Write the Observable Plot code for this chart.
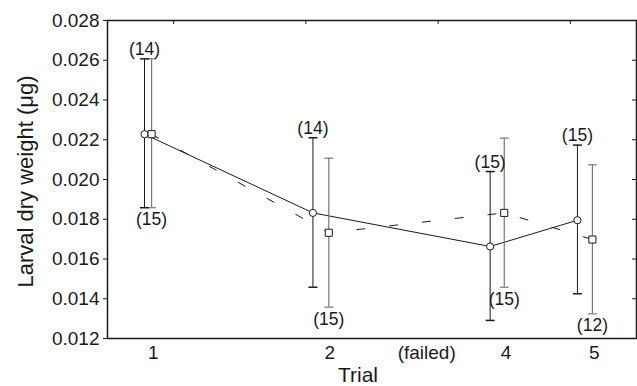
<!DOCTYPE html>
<html><head><meta charset="utf-8">
<script src="https://cdn.jsdelivr.net/npm/d3@7"></script>
<script src="https://cdn.jsdelivr.net/npm/@observablehq/plot@0.6"></script>
<style>body{margin:0;background:#fff} svg{display:block}</style>
</head><body><div id="chart"></div>
<script>
// x-axis tick positions and labels
const trialTickX = [1, 3, 4.1, 5, 6];
const trialTickLabels = ["1", "2", "(failed)", "4", "5"];
const yTicks = [0.012, 0.014, 0.016, 0.018, 0.020, 0.022, 0.024, 0.026, 0.028];
const topTickX = [1.23, 2.73, 4.23, 5.73];
const rightTickY = [0.014, 0.016, 0.018, 0.020, 0.022, 0.024, 0.026];

// circle series (solid line)
const circleX = [0.90, 2.81, 4.82, 5.81];
const circleMean = [0.02228, 0.01832, 0.01663, 0.01795];
const circleHi = [0.02607, 0.02210, 0.02040, 0.02173];
const circleLo = [0.01858, 0.01458, 0.01291, 0.01425];
const circleN = ["(14)", "(14)", "(15)", "(15)"];

// square series (dashed line)
const squareX = [0.98, 2.99, 4.98, 5.98];
const squareMean = [0.02228, 0.01732, 0.01832, 0.01698];
const squareHi = [0.02607, 0.02107, 0.02208, 0.02074];
const squareLo = [0.01858, 0.01358, 0.01458, 0.01324];
const squareN = ["(15)", "(15)", "(15)", "(12)"];

const circles = circleX.map((x, i) => ({x, y: circleMean[i], hi: circleHi[i], lo: circleLo[i], n: circleN[i]}));
const squares = squareX.map((x, i) => ({x, y: squareMean[i], hi: squareHi[i], lo: squareLo[i], n: squareN[i]}));

const capSymbol = {draw(ctx, size) { const r = Math.sqrt(size / Math.PI); ctx.moveTo(-r, 0); ctx.lineTo(r, 0); }};
const font = "'Liberation Sans', Arial, Helvetica, sans-serif";
const sqGray = "#777";

const chart = Plot.plot({
  width: 637, height: 386,
  marginTop: 20, marginRight: 1, marginBottom: 48, marginLeft: 107,
  style: {fontFamily: font, fontSize: "19px", color: "#1a1a1a", background: "#fff", overflow: "visible"},
  x: {domain: [0.48, 6.48]},
  y: {domain: [0.012, 0.028]},
  marks: [
    Plot.axisX({ticks: trialTickX, tickFormat: d => trialTickLabels[trialTickX.indexOf(d)], tickSize: 0, tickPadding: 7, label: null}),
    Plot.axisY({ticks: yTicks, tickFormat: d3.format(".3f"), tickSize: 4, tickPadding: 4, label: null}),
    Plot.tickX(topTickX, {x: d => d, insetBottom: 314, stroke: "#1a1a1a"}),
    Plot.tickY(rightTickY, {y: d => d, insetLeft: 525, stroke: "#1a1a1a"}),
    // lines
    Plot.line(squares, {x: "x", y: "y", stroke: "#1a1a1a", strokeWidth: 1, strokeDasharray: "8,25"}),
    Plot.line(circles, {x: "x", y: "y", stroke: "#1a1a1a", strokeWidth: 1}),
    // error bars
    Plot.ruleX(squares, {x: "x", y1: "lo", y2: "hi", stroke: sqGray, strokeWidth: 1.2}),
    Plot.dot(squares, {x: "x", y: "hi", symbol: capSymbol, r: 4.5, stroke: sqGray, strokeWidth: 1.2, fill: "none"}),
    Plot.dot(squares, {x: "x", y: "lo", symbol: capSymbol, r: 4.5, stroke: sqGray, strokeWidth: 1.2, fill: "none"}),
    Plot.ruleX(circles, {x: "x", y1: "lo", y2: "hi", stroke: "#1a1a1a", strokeWidth: 1}),
    Plot.dot(circles, {x: "x", y: "hi", symbol: capSymbol, r: 4.5, stroke: "#1a1a1a", fill: "none"}),
    Plot.dot(circles, {x: "x", y: "lo", symbol: capSymbol, r: 4.5, stroke: "#1a1a1a", fill: "none"}),
    // markers
    Plot.dot(circles, {x: "x", y: "y", r: 3.6, fill: "white", stroke: "#1a1a1a", strokeWidth: 1}),
    Plot.dot(squares, {x: "x", y: "y", symbol: "square", r: 4, fill: "white", stroke: "#1a1a1a", strokeWidth: 1}),
    // sample sizes
    Plot.text(circles, {x: "x", y: "hi", text: "n", lineAnchor: "bottom", dy: -4, fontSize: 17.5, fill: "#1a1a1a"}),
    Plot.text(squares, {x: "x", y: "lo", text: "n", lineAnchor: "top", dy: 5, fontSize: 17.5, fill: "#1a1a1a"}),
    // axis titles
    Plot.text(["Larval dry weight (μg)"], {text: d => d, frameAnchor: "left", textAnchor: "middle", lineAnchor: "middle", rotate: -90, dx: -82, dy: 2, fontSize: 22, fill: "#1a1a1a"}),
    Plot.text(["Trial"], {text: d => d, frameAnchor: "bottom", textAnchor: "middle", lineAnchor: "bottom", dx: -14, dy: 43.5, fontSize: 21, fill: "#1a1a1a"}),
    Plot.frame({stroke: "#1a1a1a", strokeWidth: 1.5})
  ]
});
document.getElementById("chart").append(chart);
</script>
</body></html>
